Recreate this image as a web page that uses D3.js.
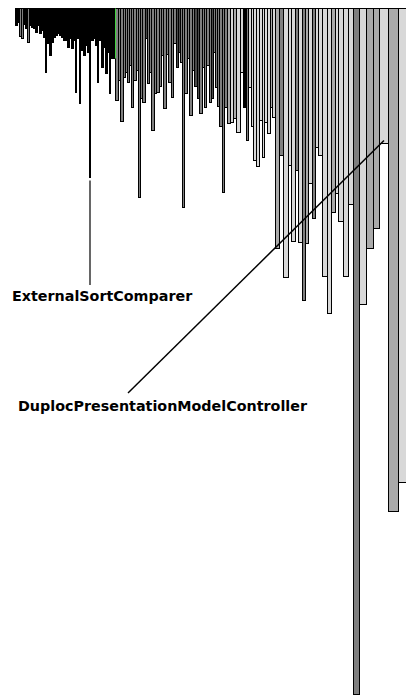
<!DOCTYPE html>
<html><head><meta charset="utf-8">
<script src="https://cdn.jsdelivr.net/npm/d3@7"></script>
<style>html,body{margin:0;padding:0;background:#fff;} svg{display:block;}</style>
</head><body>
<svg id="chart" width="406" height="697"></svg>
<script>
// Polymetric view: one bar per class, hanging from the top.
// width = number of attributes, length = number of methods, shade = lines-of-code bucket
const attributeCounts = [
  2,2,2,2,2,2,2,2,2,2, 2,2,2,2,2,1,3,2,2,2, 2,2,2,2,2,2,2,2,2,2, 1,3,1,3,2,2,2,1,3,2, 2,1,3,2,2,2,2,1,3,2,
  3,2,3,2,2,2,2,2,3,2, 2,2,3,2,2,2,3,2,3,2, 2,3,2,3,2,3,2,2,2,2, 3,2,3,2,3,2,3,2,2,3, 2,2,2,2,2,3,2,3,
  3,3,3,4,3,3,2,3,2,3, 3,3,2,3,3,2,3,4,4,
  5,3,4,3,4,3,3,4,3,3, 4,5,4,4,3,5,5,5,6,7, 7,6,9,10,9
];
const methodCounts = [
  17,14,28,30,16,20,34,17,19,20, 24,17,25,22,29,64,35,47,34,29, 27,25,27,29,32,32,39,30,40,32,
  84,30,95,42,47,37,44,169,32,30, 37,74,32,59,39,65,44,85,50,50,
  92,72,113,69,64,74,57,99,72,62, 189,90,94,30,75,64,122,85,84,78, 47,100,46,74,89,35,59,44,54,199,
  85,50,107,62,78,90,105,59,99,57, 94,90,44,79,98,118,184,99,
  115,114,110,124,64,99,132,79,118,152, 158,112,149,114,125,99,109,240,147,
  269,157,233,162,234,292,235,175,210,139, 147,268,305,204,185,213,268,196,686,296, 240,220,135,503,474
];
const locBuckets = [
  0,0,2,2,0,0,2,0,0,0, 0,0,0,0,0,0,0,0,0,0, 0,0,0,0,0,0,0,0,0,0, 0,0,0,0,0,0,0,0,0,0, 0,0,0,0,0,0,0,0,0,0,
  2,2,2,2,2,2,2,2,2,2, 2,2,2,1,2,2,2,2,2,2, 2,2,2,2,2,2,1,1,2,2, 2,2,2,2,1,1,2,2,2,2, 2,1,2,2,2,2,2,2,
  3,4,3,4,4,0,2,4,4,4, 4,4,4,4,4,3,4,3,2,
  4,4,4,2,4,2,3,4,2,4, 4,4,4,3,4,4,4,4,2,4, 3,3,4,3,4
];
const bucketColors = ["#000000", "#4a4a4a", "#7f7f7f", "#aaaaaa", "#d8d8d8"];
const labelledClasses = [
  {index: 37, name: "ExternalSortComparer"},
  {index: 139, name: "DuplocPresentationModelController"}
];
const highlightedClass = 49;

const svg = d3.select("#chart");
const starts = [0];
attributeCounts.forEach((w, i) => starts.push(starts[i] + w));
const x = d3.scaleLinear().domain([0, d3.sum(attributeCounts)]).range([15, 407]);
const y = d3.scaleLinear().domain([0, 686]).range([8, 694]);
const color = d3.scaleOrdinal().domain(d3.range(bucketColors.length)).range(bucketColors);

const bars = methodCounts.map((m, i) => {
  const x0 = Math.round(x(starts[i])) + 0.5;
  const x1 = Math.round(x(starts[i + 1])) + 0.5;
  return {i, x0, x1, top: Math.round(y(0)) + 0.5, bottom: Math.round(y(m)) + 0.5, shade: locBuckets[i]};
});

svg.append("g").selectAll("rect").data(bars).join("rect")
  .attr("x", d => d.x0).attr("y", d => d.top)
  .attr("width", d => Math.max(0.5, d.x1 - d.x0)).attr("height", d => d.bottom - d.top)
  .attr("fill", d => color(d.shade))
  .attr("stroke", "#000").attr("stroke-width", 1);

const hb = bars[highlightedClass];
svg.append("line")
  .attr("x1", hb.x1).attr("x2", hb.x1).attr("y1", hb.top).attr("y2", hb.bottom)
  .attr("stroke", "#3fd23f").attr("stroke-width", 1);

// annotation layout (label anchor positions)
const labelLayout = [
  {lx: 12, ly: 301, ex: 90.5, ey: 285},
  {lx: 18, ly: 411, ex: 128, ey: 393}
];
labelledClasses.forEach((lc, k) => {
  const b = bars[lc.index];
  const cx = k === 0 ? b.x0 + 0.5 : (b.x0 + b.x1) / 2;
  const L = labelLayout[k];
  svg.append("line")
    .attr("x1", cx).attr("y1", b.bottom + (k === 0 ? 3 : -3))
    .attr("x2", k === 0 ? cx : L.ex).attr("y2", L.ey)
    .attr("stroke", "#000").attr("stroke-width", k === 0 ? 1.2 : 1.5);
  svg.append("text")
    .attr("x", L.lx).attr("y", L.ly)
    .attr("font-family", "DejaVu Sans, sans-serif")
    .attr("font-weight", "bold").attr("font-size", "14.3px")
    .attr("fill", "#000")
    .text(lc.name);
});
</script>
</body></html>
